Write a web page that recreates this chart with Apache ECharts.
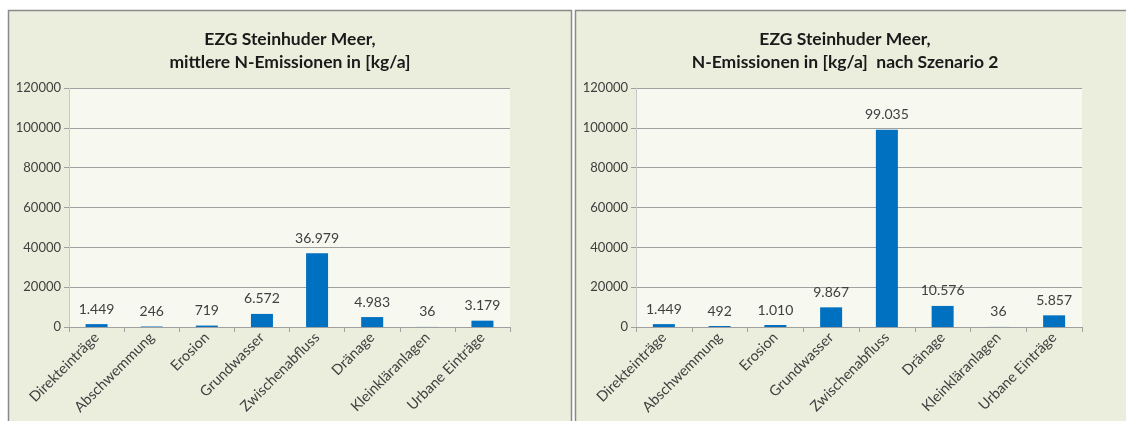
<!DOCTYPE html>
<html>
<head>
<meta charset="utf-8">
<script src="https://cdn.jsdelivr.net/npm/echarts@6/dist/echarts.min.js"></script>
<style>
html,body{margin:0;padding:0;background:#ffffff;}
#c{width:1126px;height:421px;}
</style>
</head>
<body>
<div id="c"></div>
<script>
const categories = ['Direkteinträge','Abschwemmung','Erosion','Grundwasser','Zwischenabfluss','Dränage','Kleinkläranlagen','Urbane Einträge'];
const valuesMittel = [1449, 246, 719, 6572, 36979, 4983, 36, 3179];
const valuesSzenario2 = [1449, 492, 1010, 9867, 99035, 10576, 36, 5857];
const titleLeft = 'EZG Steinhuder Meer,\nmittlere N-Emissionen in [kg/a]';
const titleRight = 'EZG Steinhuder Meer,\nN-Emissionen in [kg/a]  nach Szenario 2';

function fmt(v){ return String(v).replace(/\B(?=(\d{3})+(?!\d))/g, '.'); }

const FONT = 'Lato';
const TXT = '#404040';
const GRIDC = '#a0a0a0';

function xAx(i){
  return {
    type:'category', gridIndex:i, data:categories,
    axisLine:{show:true, lineStyle:{color:GRIDC, width:1}},
    axisTick:{show:true, length:5, lineStyle:{color:GRIDC}},
    axisLabel:{rotate:45, interval:0, fontFamily:FONT, fontSize:14.5, color:TXT, margin:8}
  };
}
function yAx(i){
  return {
    type:'value', gridIndex:i, min:0, max:120000, interval:20000,
    axisLine:{show:true, lineStyle:{color:'#c8c8c8', width:1}},
    axisTick:{show:true, length:5, lineStyle:{color:GRIDC}},
    splitLine:{show:true, lineStyle:{color:GRIDC, width:1}},
    axisLabel:{fontFamily:FONT, fontSize:13, color:TXT, margin:8, formatter:v=>String(v)}
  };
}
function bar(i, data){
  return {
    type:'bar', xAxisIndex:i, yAxisIndex:i, data:data, barWidth:22,
    itemStyle:{color:'#0070C0'},
    label:{show:true, position:'top', distance:8, fontFamily:FONT, fontSize:14, color:TXT,
      formatter:p=>fmt(p.value)},
    animation:false
  };
}

const chart = echarts.init(document.getElementById('c'), null, {renderer:'canvas'});
chart.setOption({
  animation:false,
  backgroundColor:'#ffffff',
  graphic:[
    {type:'rect', z:-10, shape:{x:8.5,y:10.5,width:563,height:420}, style:{fill:'#EBEEDD', stroke:'#8a8a8a', lineWidth:1.5}},
    {type:'rect', z:-10, shape:{x:575.5,y:10.5,width:560,height:420}, style:{fill:'#EBEEDD', stroke:'#8a8a8a', lineWidth:1.5}},
    {type:'text', x:290, y:28, style:{text:titleLeft, fontFamily:FONT, fontWeight:'bold', fontSize:17.5, lineHeight:23, fill:'#1a1a1a', align:'center', verticalAlign:'top'}},
    {type:'text', x:845, y:28, style:{text:titleRight, fontFamily:FONT, fontWeight:'bold', fontSize:17.5, lineHeight:23, fill:'#1a1a1a', align:'center', verticalAlign:'top'}}
  ],
  grid:[
    {left:69, right:1126-510, top:88, bottom:421-327, show:true, backgroundColor:'#F7F8F0', borderWidth:0},
    {left:636, right:1126-1082, top:88, bottom:421-327, show:true, backgroundColor:'#F7F8F0', borderWidth:0}
  ],
  xAxis:[xAx(0), xAx(1)],
  yAxis:[yAx(0), yAx(1)],
  series:[bar(0, valuesMittel), bar(1, valuesSzenario2)]
});
</script>
</body>
</html>
